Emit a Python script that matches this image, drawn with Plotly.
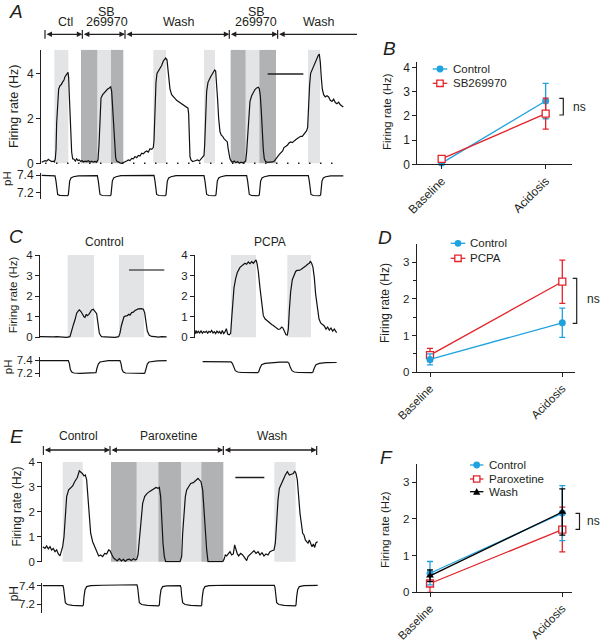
import plotly.graph_objects as go

W, H = 600, 641
FONT = "Liberation Sans, Arial, Helvetica, sans-serif"
INK = "#231f20"
TRACE = "#111111"
BLUE = "#1fa2de"
RED = "#e2232a"
LIGHT = "#e3e4e6"
DARK = "#b1b2b4"

# ===================== DATA =====================
# Panel A : firing rate (bin index, Hz) and pH (bin index, pH)
A_rate = [(5,0.05),(10,0.08),(15,0.12),(20,0.10),(25,0.18),(30,0.12),(35,0.08),(40,0.10),(43,0.06),(46,0.2),
          (48,0.6),(50,1.8),(53,2.9),(56,3.3),(60,3.45),(64,3.5),(68,3.62),(72,3.7),(75,3.85),(78,3.9),(82,4.0),
          (84,4.05),(86,3.8),(88,3.0),(90,2.0),(92,1.1),(95,0.5),(98,0.2),(102,0.18),(106,0.1),(110,0.2),(114,0.12),
          (118,0.15),(122,0.08),(126,0.12),(130,0.06),(135,0.1),(140,0.08),(145,0.12),(150,0.06),(155,0.09),(160,0.05),
          (165,0.08),(170,0.05),(174,0.15),(177,0.8),(180,2.2),(183,2.9),(188,3.05),(193,3.15),(198,3.2),(203,3.3),
          (208,3.35),(212,3.4),(215,3.2),(218,2.5),(221,1.5),(224,0.7),(227,0.25),(230,0.1),(235,0.05),(240,0.02),
          (245,0.0),(250,0.03),(255,0.05),(260,0.1),(265,0.15),(270,0.12),(275,0.22),(280,0.2),(285,0.3),(290,0.25),
          (295,0.35),(300,0.32),(305,0.45),(310,0.42),(315,0.5),(320,0.55),(325,0.5),(330,0.65),(335,0.62),(340,0.7),
          (342,1.0),(345,2.5),(348,3.6),(351,4.0),(355,4.1),(360,4.2),(365,4.35),(370,4.55),(374,4.65),(377,4.68),
          (381,4.6),(384,4.2),(387,3.6),(390,3.3),(395,3.05),(400,2.95),(405,2.9),(410,2.8),(415,2.75),(420,2.7),
          (425,2.62),(430,2.6),(435,2.55),(440,2.5),(444,2.45),(446,2.2),(448,1.0),(450,0.3),(453,0.15),(458,0.08),
          (463,0.1),(468,0.12),(473,0.15),(478,0.1),(483,0.2),(488,0.25),(492,0.35),(494,0.8),(497,2.3),(500,3.2),
          (504,3.6),(508,3.75),(512,3.85),(516,3.95),(520,4.05),(524,4.15),(527,4.1),(530,3.6),(533,2.8),(536,2.0),
          (540,1.4),(544,1.25),(548,1.2),(552,1.1),(556,1.05),(560,1.0),(562,0.95),(564,0.7),(567,0.4),(570,0.2),
          (574,0.1),(578,0.05),(583,0.1),(588,0.03),(593,0.08),(598,0.0),(603,0.05),(608,0.02),(613,0.06),(617,0.1),
          (620,0.5),(623,1.3),(626,2.2),(630,2.75),(635,3.0),(640,3.15),(645,3.28),(650,3.35),(655,3.38),(658,3.32),
          (661,3.0),(664,2.3),(667,1.3),(670,0.6),(673,0.2),(677,0.08),(682,0.04),(688,0.05),(692,0.04),(697,0.06),
          (703,0.1),(708,0.18),(713,0.3),(718,0.4),(723,0.5),(728,0.55),(732,0.7),(737,0.75),(742,0.8),(747,0.9),
          (752,0.95),(757,0.92),(762,1.0),(767,1.05),(772,1.1),(777,1.15),(782,1.2),(787,1.2),(792,1.3),(797,1.35),
          (800,1.45),(803,1.6),(806,2.7),(809,3.5),(812,4.0),(816,4.15),(820,4.25),(825,4.5),(830,4.65),(835,4.8),
          (838,4.85),(841,4.5),(844,3.8),(847,3.3),(851,3.05),(856,2.95),(861,3.0),(866,2.95),(871,2.8),(876,2.75),
          (881,2.85),(886,2.7),(891,2.65),(896,2.72),(901,2.6),(906,2.55),(910,2.5)]
A_ph = [(5,7.395),(45,7.39),(48,7.33),(50,7.22),(53,7.175),(60,7.165),(82,7.16),(85,7.17),(87,7.26),(89,7.33),
        (93,7.365),(100,7.38),(115,7.39),(172,7.392),(175,7.33),(177,7.22),(180,7.175),(187,7.163),(210,7.16),
        (213,7.17),(215,7.26),(217,7.33),(221,7.365),(228,7.38),(243,7.392),(342,7.395),(345,7.33),(347,7.22),
        (350,7.175),(357,7.163),(375,7.16),(378,7.17),(380,7.26),(382,7.33),(386,7.365),(393,7.38),(408,7.393),
        (492,7.393),(495,7.33),(497,7.22),(500,7.175),(507,7.163),(525,7.16),(528,7.17),(530,7.26),(532,7.33),
        (536,7.365),(543,7.38),(558,7.392),(620,7.393),(623,7.33),(625,7.22),(628,7.175),(635,7.163),(655,7.16),
        (658,7.17),(660,7.26),(662,7.33),(666,7.365),(673,7.38),(688,7.393),(805,7.392),(808,7.33),(810,7.22),
        (813,7.175),(820,7.163),(839,7.16),(842,7.17),(844,7.26),(846,7.33),(850,7.365),(857,7.38),(872,7.39),(910,7.39)]
A_light = [(43,85),(172,213),(340,378),(492,525),(617,658),(804,840)]
A_dark = [(123,172),(213,250),(572,617),(658,708)]
A_phase_edges = [15, 127, 255, 568, 713, 951]
A_phase_labels = ["Ctl", "SB|269970", "Wash", "SB|269970", "Wash"]
A_scalebar = (683, 790, 3.97)

# Panel C : Control and PCPA example traces
C_ctrl_rate = [(0,0.03),(10,0.02),(20,0.03),(30,0.01),(40,0.02),(50,0.03),(60,0.01),(70,0.02),(80,0.0),(90,0.03),
               (95,0.36),(100,0.6),(105,0.85),(110,1.17),(115,1.28),(118,1.33),(123,1.25),(128,1.08),(132,1.0),
               (135,0.97),(139,1.12),(142,1.05),(146,1.1),(150,1.2),(155,1.33),(160,1.36),(163,1.28),(167,1.22),
               (170,1.15),(174,0.68),(178,0.2),(182,0.08),(185,0.03),(195,0.02),(205,0.01),(215,0.03),(225,0.0),
               (236,0.03),(240,0.2),(244,0.55),(248,0.85),(252,1.0),(256,1.03),(262,1.05),(266,1.12),(270,1.08),
               (275,1.2),(280,1.22),(285,1.3),(290,1.35),(295,1.38),(305,1.39),(310,1.36),(314,1.2),(318,0.6),
               (322,0.3),(328,0.1),(335,0.04),(345,0.03),(355,0.01),(365,0.03),(375,0.02),(380,0.02)]
C_ctrl_ph = [(0,7.39),(85,7.39),(88,7.35),(91,7.26),(95,7.22),(102,7.205),(120,7.2),(166,7.2),(168,7.21),(171,7.28),
             (175,7.34),(180,7.37),(190,7.38),(205,7.39),(240,7.39),(243,7.35),(246,7.26),(250,7.22),(257,7.205),
             (275,7.2),(313,7.2),(315,7.21),(318,7.28),(322,7.34),(327,7.37),(337,7.38),(352,7.387),(380,7.39)]
C_ctrl_light = [(83,162),(237,312)]
C_pcpa_rate = [(0,0.16),(3,0.33),(6,0.2),(10,0.29),(14,0.21),(18,0.31),(22,0.2),(26,0.28),(30,0.23),(34,0.3),
               (38,0.2),(42,0.29),(46,0.24),(50,0.33),(54,0.21),(58,0.27),(62,0.18),(66,0.3),(70,0.22),(74,0.28),
               (78,0.16),(82,0.33),(86,0.18),(90,0.26),(94,0.42),(98,0.16),(103,0.12),(107,0.2),(110,0.9),(113,1.7),
               (117,2.4),(122,2.85),(127,3.15),(135,3.4),(143,3.52),(150,3.6),(155,3.55),(160,3.66),(165,3.58),
               (170,3.68),(175,3.6),(180,3.7),(183,3.76),(186,3.6),(190,3.2),(195,2.4),(200,1.6),(205,1.05),(210,0.9),
               (215,0.82),(220,0.78),(225,0.7),(230,0.62),(235,0.57),(240,0.5),(245,0.45),(250,0.38),(255,0.4),
               (260,0.5),(264,0.45),(268,0.3),(273,0.12),(277,0.11),(280,0.4),(283,1.3),(287,2.2),(292,2.8),
               (297,3.05),(302,3.2),(306,3.25),(312,3.25),(318,3.3),(323,3.35),(328,3.4),(333,3.48),(338,3.55),
               (343,3.6),(346,3.7),(350,3.6),(354,3.4),(358,2.9),(362,2.1),(367,1.4),(372,0.9),(377,0.7),(383,0.6),
               (388,0.55),(393,0.4),(398,0.5),(403,0.35),(408,0.45),(413,0.3),(418,0.4),(422,0.3),(425,0.22)]
C_pcpa_ph = [(23,7.375),(60,7.375),(108,7.373),(112,7.35),(116,7.29),(121,7.24),(128,7.22),(140,7.212),(188,7.21),
             (191,7.22),(195,7.28),(200,7.33),(210,7.35),(230,7.362),(255,7.367),(278,7.368),(282,7.35),(286,7.29),
             (291,7.24),(298,7.22),(310,7.212),(351,7.21),(354,7.22),(358,7.28),(363,7.33),(373,7.35),(393,7.36),
             (425,7.363)]
C_pcpa_light = [(108,183),(277,348)]
C_scalebar = (267, 373, 3.27)

# Panel E : Control / Paroxetine / Wash example trace
E_rate = [(1,0.6),(8,0.53),(13,0.63),(18,0.51),(23,0.6),(28,0.47),(33,0.53),(38,0.4),(43,0.47),(48,0.31),(53,0.23),
          (56,0.4),(61,0.6),(65,1.0),(69,1.94),(73,2.61),(79,2.88),(85,2.98),(91,3.04),(97,3.21),(105,3.38),(111,3.65),
          (115,3.61),(120,3.54),(125,3.44),(129,3.48),(133,3.28),(137,2.47),(141,1.67),(145,1.14),(151,0.8),(157,0.6),
          (163,0.4),(169,0.23),(175,0.27),(181,0.2),(187,0.33),(193,0.31),(199,0.47),(203,0.44),(209,0.27),(213,0.16),
          (219,0.09),(225,0.04),(231,0.12),(237,0.03),(243,0.09),(249,0.01),(255,0.08),(261,0.1),(267,0.05),(273,0.12),
          (279,0.07),(283,0.09),(287,0.27),(291,0.87),(295,1.67),(301,2.34),(307,2.61),(313,2.72),(321,2.81),(329,2.88),
          (335,2.9),(341,2.98),(347,2.94),(351,2.98),(355,2.61),(358,1.67),(362,0.74),(366,0.2),(370,0.0),(413,0.0),
          (418,0.2),(421,1.14),(425,2.07),(429,2.61),(433,2.88),(439,3.04),(445,3.14),(453,3.17),(461,3.28),(467,3.34),
          (471,3.28),(476,3.21),(481,2.88),(485,2.07),(489,1.14),(493,0.47),(497,0.0),(541,0.0),(545,0.09),(549,0.27),
          (553,0.23),(558,0.33),(563,0.4),(568,0.27),(573,0.31),(577,0.67),(581,0.47),(585,0.31),(589,0.23),(595,0.33),
          (601,0.27),(607,0.17),(613,0.04),(617,0.2),(623,0.27),(629,0.36),(635,0.44),(641,0.33),(647,0.4),(653,0.27),
          (659,0.36),(665,0.23),(671,0.31),(677,0.27),(683,0.4),(689,0.44),(695,0.47),(699,0.74),(703,1.67),(707,2.47),
          (711,2.94),(717,3.14),(723,3.3),(729,3.48),(735,3.61),(741,3.48),(747,3.51),(753,3.54),(757,3.64),(761,3.54),
          (765,3.28),(769,2.47),(773,1.94),(777,1.54),(781,1.14),(785,1.07),(789,0.87),(793,0.8),(797,0.74),(801,0.87),
          (805,0.7),(809,0.6),(813,0.71),(817,0.57),(821,0.76),(826,0.8)]
E_ph = [(1,7.40),(30,7.40),(62,7.40),(64,7.37),(66,7.28),(69,7.215),(75,7.195),(90,7.185),(121,7.18),(123,7.19),
        (125,7.28),(128,7.355),(133,7.39),(145,7.40),(180,7.405),(250,7.41),(284,7.41),(286,7.38),(288,7.29),
        (291,7.215),(298,7.195),(315,7.185),(349,7.18),(351,7.19),(353,7.28),(356,7.355),(361,7.39),(373,7.398),
        (414,7.40),(416,7.38),(418,7.29),(421,7.215),(428,7.195),(445,7.185),(476,7.18),(478,7.19),(480,7.28),
        (483,7.355),(488,7.39),(500,7.40),(550,7.405),(650,7.405),(696,7.403),(698,7.38),(700,7.29),(703,7.215),
        (710,7.195),(725,7.185),(759,7.18),(761,7.19),(763,7.28),(766,7.355),(771,7.39),(785,7.4),(826,7.403)]
E_light = [(61,121),(283,348),(416,477),(696,760)]
E_dark = [(206,283),(348,416),(477,543)]
E_phase_edges = [3, 203, 543, 823]
E_phase_labels = ["Control", "Paroxetine", "Wash"]
E_scalebar = (579, 666, 3.38)

# Summary panels (mean, SEM)
conditions = ["Baseline", "Acidosis"]
B_control = [0.05, 2.61]
B_control_sem = [0.04, 0.73]
B_sb = [0.22, 2.09]
B_sb_sem = [0.05, 0.64]
D_control = [0.35, 1.35]
D_control_sem = [0.15, 0.40]
D_pcpa = [0.47, 2.47]
D_pcpa_sem = [0.18, 0.59]
F_control = [0.52, 2.16]
F_control_sem = [0.32, 0.75]
F_parox = [0.24, 1.71]
F_parox_sem = [0.24, 0.61]
F_wash = [0.45, 2.19]
F_wash_sem = [0.16, 0.63]

# ===================== HELPERS =====================
def fx(p):
    return p / W

def fy(p):
    return 1 - p / H

def dom_x(a, b):
    return [a / W, b / W]

def dom_y(top, bot):
    return [1 - bot / H, 1 - top / H]

fig = go.Figure()
shapes = []
annos = []

def add_trace_line(pairs, xa, ya, color=TRACE, width=1.2):
    t = [p[0] for p in pairs]
    v = [p[1] for p in pairs]
    fig.add_trace(go.Scatter(x=t, y=v, xaxis=xa, yaxis=ya, mode="lines",
                             line=dict(color=color, width=width), hoverinfo="skip", showlegend=False))

def add_shading(periods, xa, ya, y1, color):
    for a, b in periods:
        shapes.append(dict(type="rect", xref=xa, yref=ya, x0=a, x1=b, y0=0, y1=y1,
                           fillcolor=color, line=dict(width=0), layer="below"))

def add_scalebar(bar, xa, ya, color=INK):
    a, b, y = bar
    shapes.append(dict(type="line", xref=xa, yref=ya, x0=a, x1=b, y0=y, y1=y,
                       line=dict(color=color, width=1.4)))

def text(x, y, s, size=12, angle=0, xanchor="center", italic=False, xref="paper", xshift=0):
    if italic:
        s = "<i>" + s + "</i>"
    annos.append(dict(x=x if xref != "paper" else fx(x), y=fy(y), xref=xref, yref="paper", text=s,
                      showarrow=False, textangle=angle, xanchor=xanchor, yanchor="middle", xshift=xshift,
                      font=dict(family=FONT, size=size, color=INK)))

def add_header(edges, labels, xa, y_arrow, y_tick0, y_tick1, y_lab, size, open_end=False, y_lab_top=None):
    n = len(labels)
    for i in range(n):
        last_open = open_end and i == n - 1
        annos.append(dict(x=edges[i + 1], y=fy(y_arrow), xref=xa, yref="paper", ax=edges[i], ay=0,
                          axref=xa, ayref="pixel", text="", showarrow=True,
                          arrowside="start" if last_open else "end+start",
                          arrowhead=2, startarrowhead=2, arrowsize=0.85, startarrowsize=0.85,
                          arrowwidth=1.3, arrowcolor=INK))
        mid = (edges[i] + edges[i + 1]) / 2
        lab = labels[i]
        if "|" in lab:
            top, bot = lab.split("|")
            text(mid, y_lab_top, top, size=size, xref=xa, xshift=3)
            text(mid, y_lab, bot, size=size, xref=xa, xshift=3)
        else:
            text(mid, y_lab, lab, size=size, xref=xa, xshift=2)
    tick_edges = edges[:-1] if open_end else edges
    for e in tick_edges:
        shapes.append(dict(type="line", xref=xa, yref="paper", x0=e, x1=e, y0=fy(y_tick0), y1=fy(y_tick1),
                           line=dict(color=INK, width=1.2)))

def add_summary(y, err, xa, ya, color, symbol, filled):
    fig.add_trace(go.Scatter(
        x=conditions, y=y, xaxis=xa, yaxis=ya, mode="lines+markers", cliponaxis=False,
        line=dict(color=color, width=1.3),
        marker=dict(symbol=symbol, size=7, color=color if filled else "white",
                    line=dict(color=color, width=0 if filled else 1.3)),
        error_y=dict(type="data", array=err, color=color, thickness=1.3, width=3),
        hoverinfo="skip", showlegend=False))

def legend_row(cx, cy, half, color, kind, label, tx, size=11.5):
    shapes.append(dict(type="line", xref="paper", yref="paper", x0=fx(cx - half), x1=fx(cx + half),
                       y0=fy(cy), y1=fy(cy), line=dict(color=color, width=1.3)))
    r = 3.4
    if kind == "circle":
        shapes.append(dict(type="circle", xref="paper", yref="paper", x0=fx(cx - r), x1=fx(cx + r),
                           y0=fy(cy + r), y1=fy(cy - r), fillcolor=color, line=dict(width=0)))
    elif kind == "square":
        shapes.append(dict(type="rect", xref="paper", yref="paper", x0=fx(cx - 3.2), x1=fx(cx + 3.2),
                           y0=fy(cy + 3.2), y1=fy(cy - 3.2), fillcolor="white", line=dict(color=color, width=1.3)))
    else:
        path = "M{:.5f},{:.5f} L{:.5f},{:.5f} L{:.5f},{:.5f} Z".format(
            fx(cx - 3.6), fy(cy + 3), fx(cx + 3.6), fy(cy + 3), fx(cx), fy(cy - 3.6))
        shapes.append(dict(type="path", xref="paper", yref="paper", path=path, fillcolor=color,
                           line=dict(width=0)))
    text(tx, cy, label, size=size, xanchor="left")

def ns_bracket(x, top, bot, tx, ty):
    path = "M{:.5f},{:.5f} L{:.5f},{:.5f} L{:.5f},{:.5f} L{:.5f},{:.5f}".format(
        fx(x - 4), fy(top), fx(x), fy(top), fx(x), fy(bot), fx(x - 4), fy(bot))
    shapes.append(dict(type="path", xref="paper", yref="paper", path=path, line=dict(color=INK, width=1.2)))
    text(tx, ty, "ns", size=12, xanchor="left")

def yaxis(rng, top, bot, anchor, tickvals, size=11.5, visible=True, minor=None):
    d = dict(range=rng, domain=dom_y(top, bot), anchor=anchor, showgrid=False, zeroline=False,
             fixedrange=True, automargin=False)
    if not visible:
        d["visible"] = False
        return d
    d.update(showline=True, linecolor=INK, linewidth=1, ticks="outside", ticklen=4, tickwidth=1,
             tickcolor=INK, tickvals=tickvals, ticktext=[("%g" % v) for v in tickvals],
             tickfont=dict(family=FONT, size=size, color=INK))
    if minor:
        d["minor"] = minor
    return d

def xhidden(rng, a, b, anchor):
    return dict(range=rng, domain=dom_x(a, b), anchor=anchor, visible=False, fixedrange=True, automargin=False)

def xcat(rng, a, b, anchor, size=11.5):
    return dict(type="category", range=rng, domain=dom_x(a, b), anchor=anchor, showgrid=False,
                zeroline=False, showline=True, linecolor=INK, linewidth=1, ticks="outside", ticklen=4,
                tickcolor=INK, tickangle=-45, tickfont=dict(family=FONT, size=size, color=INK),
                fixedrange=True, automargin=False)

layout = {}

# ---------- Panel A ----------
layout["xaxis"] = xhidden([3, 955], 41.0, 358.3, "y")
layout["yaxis"] = yaxis([-0.04, 5.05], 49.7, 164.2, "x", [0, 2, 4], size=12)
layout["xaxis2"] = xhidden([3, 955], 41.0, 358.3, "y2")
layout["yaxis2"] = yaxis([7.119, 7.42], 173.3, 199.3, "x2", [7.2, 7.4], size=12)
add_shading(A_light, "x", "y", 5.05, LIGHT)
add_shading(A_dark, "x", "y", 5.05, DARK)
shapes.append(dict(type="line", xref="x", yref="y", x0=15, x1=892, y0=0, y1=0,
                   line=dict(color=INK, width=1.5, dash="1.5px,9.5px")))
add_scalebar(A_scalebar, "x", "y")
add_trace_line(A_rate, "x", "y")
add_trace_line(A_ph, "x2", "y2")
add_header(A_phase_edges, A_phase_labels, "x", 34.3, 30, 38.7, 21.7, 12.5, open_end=True, y_lab_top=11.5)
text(7, 11.5, "A", size=19, xanchor="left", italic=True)
text(13.3, 106.7, "Firing rate (Hz)", size=12.5, angle=-90)
text(7, 179, "pH", size=11.5, angle=-90)

# ---------- Panel B ----------
layout["xaxis3"] = xcat([-0.234, 1.256], 417.3, 572.3, "y3", size=12)
layout["yaxis3"] = yaxis([0, 4.21], 62.3, 164.3, "x3", [0, 1, 2, 3, 4], size=12)
add_summary(B_control, B_control_sem, "x3", "y3", BLUE, "circle", True)
add_summary(B_sb, B_sb_sem, "x3", "y3", RED, "square", False)
text(381, 48.5, "B", size=19, xanchor="left", italic=True)
text(387, 112, "Firing rate (Hz)", size=11.5, angle=-90)
legend_row(440, 69, 7.3, BLUE, "circle", "Control", 450.7)
legend_row(440, 83.3, 7.3, RED, "square", "SB269970", 450.7)
ns_bracket(563.3, 98.3, 115, 570.5, 107.3)

# ---------- Panel C ----------
layout["xaxis4"] = xhidden([0, 385], 40.0, 168.3, "y4")
layout["yaxis4"] = yaxis([-0.03, 4.02], 254.6, 337.9, "x4", [0, 1, 2, 3, 4])
layout["xaxis5"] = xhidden([0, 385], 40.0, 168.3, "y5")
layout["yaxis5"] = yaxis([7.149, 7.45], 356.7, 376.7, "x5", [7.2, 7.4])
layout["xaxis6"] = xhidden([0, 430], 195.0, 338.3, "y6")
layout["yaxis6"] = yaxis([-0.03, 4.02], 254.6, 337.9, "x6", [0, 1, 2, 3, 4])
layout["xaxis7"] = xhidden([0, 430], 195.0, 338.3, "y7")
layout["yaxis7"] = yaxis([7.149, 7.45], 356.7, 376.7, "x7", [7.2, 7.4], visible=False)
add_shading(C_ctrl_light, "x4", "y4", 4.0, LIGHT)
add_shading(C_pcpa_light, "x6", "y6", 4.0, LIGHT)
add_scalebar(C_scalebar, "x4", "y4", color="#555555")
add_trace_line(C_ctrl_rate, "x4", "y4")
add_trace_line(C_ctrl_ph, "x5", "y5")
add_trace_line(C_pcpa_rate, "x6", "y6")
add_trace_line(C_pcpa_ph, "x7", "y7")
text(7, 236.5, "C", size=19, xanchor="left", italic=True)
text(104, 242, "Control", size=12)
text(270, 242, "PCPA", size=12)
text(13.3, 295, "Firing rate (Hz)", size=11.5, angle=-90)
text(7.5, 366.7, "pH", size=11.5, angle=-90)

# ---------- Panel D ----------
layout["xaxis8"] = xcat([-0.1005, 1.096], 416.7, 575.0, "y8")
layout["yaxis8"] = yaxis([0, 3.49], 244.3, 372.3, "x8", [0, 1, 2, 3],
                         minor=dict(dtick=0.5, tick0=0, ticks="outside", ticklen=3, tickcolor=INK))
add_summary(D_pcpa, D_pcpa_sem, "x8", "y8", RED, "square", False)
add_summary(D_control, D_control_sem, "x8", "y8", BLUE, "circle", True)
text(376, 237.5, "D", size=19, xanchor="left", italic=True)
text(385, 303, "Firing rate (Hz)", size=12, angle=-90)
legend_row(458, 243.3, 7.3, BLUE, "circle", "Control", 468.3)
legend_row(458, 258.3, 7.3, RED, "square", "PCPA", 468.3)
ns_bracket(576.7, 278.3, 323.3, 584.5, 299.3)

# ---------- Panel E ----------
layout["xaxis9"] = xhidden([0, 830], 42.33, 319.0, "y9")
layout["yaxis9"] = yaxis([-0.03, 4.0], 462.0, 562.4, "x9", [0, 1, 2, 3, 4])
layout["xaxis10"] = xhidden([0, 830], 42.33, 319.0, "y10")
layout["yaxis10"] = yaxis([7.099, 7.426], 583.3, 613.3, "x10", [7.2, 7.4])
add_shading(E_light, "x9", "y9", 4.0, LIGHT)
add_shading(E_dark, "x9", "y9", 4.0, DARK)
add_scalebar(E_scalebar, "x9", "y9")
add_trace_line(E_rate, "x9", "y9")
add_trace_line(E_ph, "x10", "y10")
add_header(E_phase_edges, E_phase_labels, "x9", 450, 446, 455, 436, 12)
text(8, 436, "E", size=19, xanchor="left", italic=True)
text(16.7, 506.7, "Firing rate (Hz)", size=12, angle=-90)
text(14, 594.3, "pH", size=12, angle=-90)

# ---------- Panel F ----------
layout["xaxis11"] = xcat([-0.1005, 1.0756], 416.7, 572.3, "y11")
layout["yaxis11"] = yaxis([0, 3.49], 464.3, 592.3, "x11", [0, 1, 2, 3])
add_summary(F_parox, F_parox_sem, "x11", "y11", RED, "square", False)
add_summary(F_control, F_control_sem, "x11", "y11", BLUE, "circle", True)
add_summary(F_wash, F_wash_sem, "x11", "y11", "#000000", "triangle-up", True)
text(378, 457.5, "F", size=19, xanchor="left", italic=True)
text(385, 530, "Firing rate (Hz)", size=11.5, angle=-90)
legend_row(476.7, 465, 6.7, BLUE, "circle", "Control", 486.7)
legend_row(476.7, 479, 6.7, RED, "square", "Paroxetine", 486.7)
legend_row(476.7, 491.7, 6.7, "#000000", "triangle", "Wash", 486.7)
ns_bracket(579.5, 513.3, 529.3, 584.5, 520.7)

fig.update_layout(
    template="none",
    width=W, height=H, autosize=False,
    margin=dict(l=0, r=0, t=0, b=0, pad=0),
    paper_bgcolor="white", plot_bgcolor="rgba(0,0,0,0)",
    showlegend=False, font=dict(family=FONT, color=INK),
    shapes=shapes, annotations=annos, **layout)

fig.write_html("out.html", config={"displayModeBar": False, "staticPlot": True},
               post_script="document.body.style.margin='0px';document.body.style.overflow='hidden';")
